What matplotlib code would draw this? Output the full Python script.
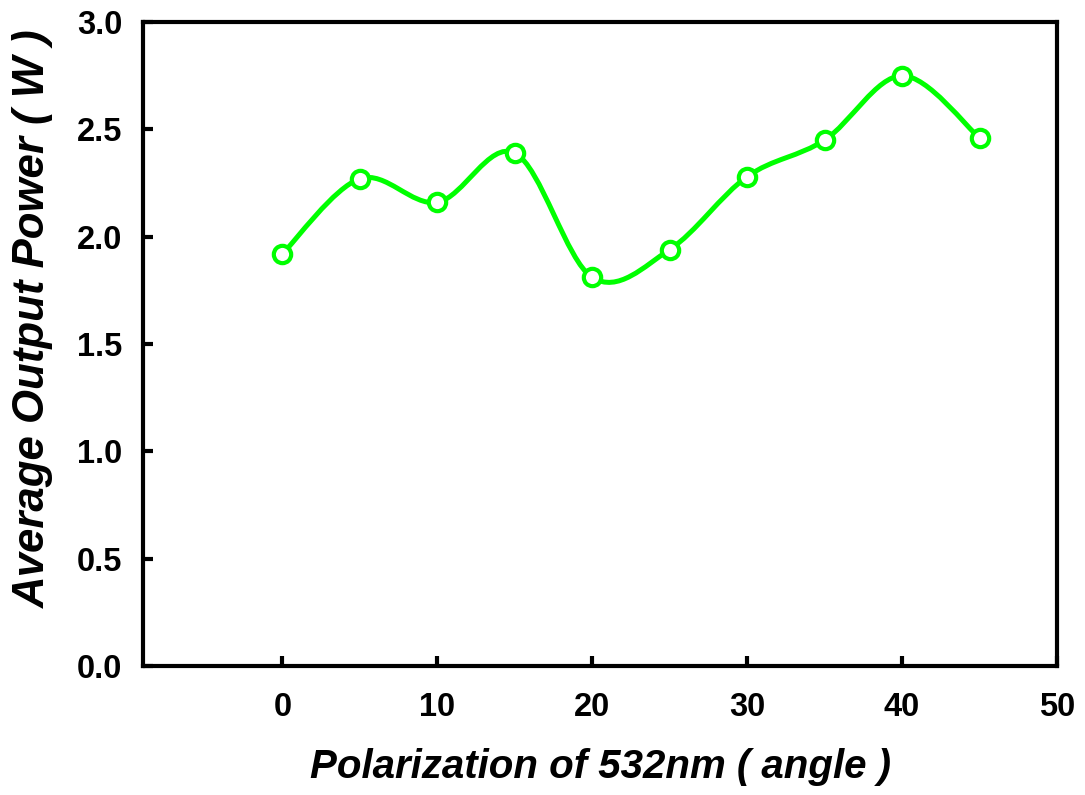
import numpy as np
import matplotlib
matplotlib.use('Agg')
import matplotlib.pyplot as plt
from matplotlib.path import Path
from matplotlib.patches import PathPatch

# polarization angle vs average output power
angles = [0, 5, 10, 15, 20, 25, 30, 35, 40, 45]
power = [1.92, 2.27, 2.16, 2.39, 1.81, 1.94, 2.28, 2.45, 2.75, 2.46]
xticks = [0, 10, 20, 30, 40, 50]
yticks = [0.0, 0.5, 1.0, 1.5, 2.0, 2.5, 3.0]

GREEN = '#00ff00'

plt.rcParams['font.family'] = ['Liberation Sans', 'DejaVu Sans']
plt.rcParams['font.weight'] = 'bold'


def smooth_path(xs, ys):
    # Catmull-Rom style cubic bezier through the points (spreadsheet smoothing)
    pts = np.column_stack([xs, ys]).astype(float)
    n = len(pts)
    verts = [pts[0]]
    codes = [Path.MOVETO]
    for i in range(n - 1):
        p0 = pts[i - 1] if i > 0 else pts[i]
        p1 = pts[i]
        p2 = pts[i + 1]
        p3 = pts[i + 2] if i + 2 < n else pts[i + 1]
        c1 = p1 + (p2 - p0) / 6.0
        c2 = p2 - (p3 - p1) / 6.0
        verts += [c1, c2, p2]
        codes += [Path.CURVE4] * 3
    return Path(verts, codes)


fig = plt.figure(figsize=(10.85, 7.95), dpi=100)
ax = fig.add_axes([0.1318, 0.1623, 0.8424, 0.81])

ax.add_patch(PathPatch(smooth_path(angles, power), facecolor='none',
                       edgecolor=GREEN, lw=3.6, zorder=2))
ax.plot(angles, power, ls='none', marker='o', ms=12.5, mfc='white',
        mec=GREEN, mew=3, zorder=3)

ax.set_xlim(-9, 50)
ax.set_ylim(0, 3.0)
ax.set_xticks(xticks)
ax.set_yticks(yticks)
ax.set_yticklabels([f'{v:.1f}' for v in yticks])
ax.tick_params(direction='in', length=7, width=3, labelsize=23.5)
ax.tick_params(axis='x', pad=19)
ax.tick_params(axis='y', pad=15)

for s in ax.spines.values():
    s.set_linewidth(3)

ax.set_xlabel('Polarization of 532nm ( angle )', fontsize=29,
              fontstyle='italic', fontweight='bold', labelpad=18)
ax.set_ylabel('Average Output Power ( W )', fontsize=31.5,
              fontstyle='italic', fontweight='bold')
ax.yaxis.set_label_coords(-0.097, 0.54)

fig.savefig('out.png', dpi=100)
